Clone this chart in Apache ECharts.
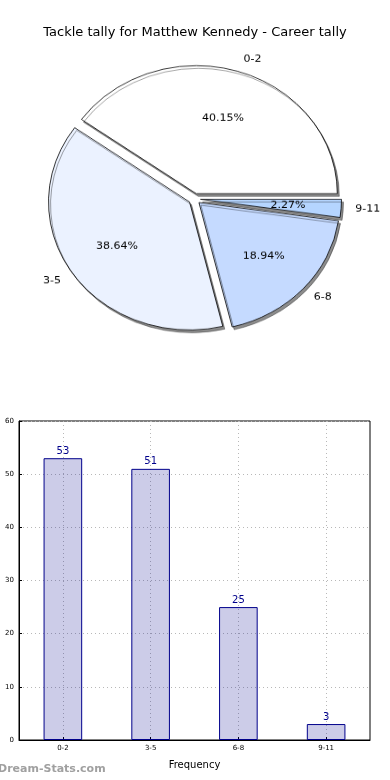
<!DOCTYPE html>
<html><head><meta charset="utf-8">
<script src="https://cdn.jsdelivr.net/npm/echarts@6/dist/echarts.min.js"></script>
<style>
html,body{margin:0;padding:0;background:#fff}
#wrap{position:relative;width:390px;height:780px}
#c{position:absolute;left:0;top:0;width:390px;height:780px}
#p{position:absolute;left:0;top:0;width:390px;height:400px;transform-origin:0 0;transform:scaleY(0.908)}
</style>
</head><body><div id="wrap"><div id="c"></div><div id="p"></div></div>
<script>
const categories = ['0-2', '3-5', '6-8', '9-11'];
const counts = [53, 51, 25, 3];
const sliceColors = ['#ffffff', '#ebf2ff', '#c5daff', '#b5d5ff'];
const yTicks = [0, 10, 20, 30, 40, 50, 60];

const font = 'DejaVu Sans';
const total = counts.reduce((a, b) => a + b, 0);
const R = 141;
const center = [194.5, 219];

const pieData = categories.map((c, i) => ({
  name: c, value: counts[i], selected: true,
  itemStyle: { color: sliceColors[i] }
}));
const pctData = categories.map((c, i) => ({
  name: c, value: counts[i], selected: true
}));

const chart = echarts.init(document.getElementById('c'), null, { renderer: 'canvas' });
chart.setOption({
  animation: false,
  backgroundColor: '#fff',
  title: {
    text: 'Tackle tally for Matthew Kennedy - Career tally',
    left: 'center', top: 21,
    textStyle: { fontFamily: font, fontSize: 13, fontWeight: 'normal', color: '#000' }
  },
  graphic: [{
    type: 'text', left: -2, top: 764,
    style: { text: 'Dream-Stats.com', fontFamily: font, fontSize: 11, fontWeight: 'bold', fill: '#a0a0a0' }
  }],
  grid: {
    left: 19, right: 20, top: 421, bottom: 40,
    show: true, borderColor: '#000', borderWidth: 1
  },
  xAxis: {
    type: 'category', data: categories,
    name: 'Frequency', nameLocation: 'middle', nameGap: 20,
    nameTextStyle: { fontFamily: font, fontSize: 10, color: '#000' },
    axisLine: { lineStyle: { color: '#000' } },
    axisTick: { show: true, alignWithLabel: true, inside: true, length: 3, lineStyle: { color: '#000' } },
    axisLabel: { fontFamily: font, fontSize: 7, color: '#000', margin: 5 },
    splitLine: { show: true, alignWithLabel: true, lineStyle: { color: '#b8b8b8', type: [1, 3], width: 1 } }
  },
  yAxis: {
    type: 'value', min: 0, max: 60, interval: 10,
    axisLine: { show: true, lineStyle: { color: '#000' } },
    axisTick: { show: true, inside: true, length: 3, lineStyle: { color: '#000' } },
    axisLabel: { fontFamily: font, fontSize: 7, color: '#000', margin: 5,
      formatter: v => yTicks.includes(v) ? String(v) : '' },
    splitLine: { show: true, lineStyle: { color: '#b8b8b8', type: [1, 3], width: 1 } }
  },
  series: [
    {
      type: 'bar', data: counts, barWidth: '44%',
      itemStyle: { color: 'rgba(0,0,139,0.2)', borderColor: '#00008b', borderWidth: 1 },
      label: { show: true, position: 'top', distance: 2, fontFamily: font, fontSize: 10, color: '#00008b' },
      emphasis: { disabled: true }, silent: true
    }
  ]
});

const pie = echarts.init(document.getElementById('p'), null, { renderer: 'canvas' });
pie.setOption({
  animation: false,
  series: [
    {
      type: 'pie', center: center, radius: [0, R],
      startAngle: 0, clockwise: false,
      selectedMode: 'multiple', selectedOffset: 6,
      data: pieData,
      itemStyle: { borderColor: '#000', borderWidth: 0.8,
        shadowColor: 'rgba(0,0,0,0.45)', shadowOffsetX: 2, shadowOffsetY: 3, shadowBlur: 0 },
      label: { show: true, position: 'outside', fontFamily: font, fontSize: 11, color: '#000',
        distanceToLabelLine: 0 },
      labelLine: { show: false, length: R * 0.1, length2: 0 },
      emphasis: { disabled: true },
      silent: true
    },
    {
      type: 'pie', center: center, radius: [R * 0.2, R],
      startAngle: 0, clockwise: false,
      selectedMode: 'multiple', selectedOffset: 6,
      data: pctData,
      itemStyle: { color: 'rgba(0,0,0,0)', borderWidth: 0 },
      label: { show: true, position: 'inside', fontFamily: font, fontSize: 11, color: '#000',
        formatter: p => (p.value / total * 100).toFixed(2) + '%' },
      labelLine: { show: false },
      emphasis: { disabled: true },
      silent: true, z: 5
    }
  ]
});
</script></body></html>
